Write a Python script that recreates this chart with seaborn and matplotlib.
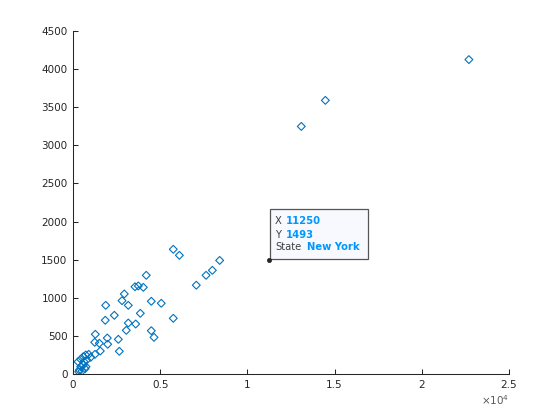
"""
Scatter of state totals with a MATLAB-style data tip on New York.
"""

import matplotlib

matplotlib.use("Agg")
import matplotlib.pyplot as plt
import matplotlib.transforms as mtransforms
from matplotlib.patches import Rectangle
import pandas as pd
import seaborn as sns

# values
x_vals = [
    22700, 14470, 13090, 8410, 7990, 7630, 7070, 6100, 5750, 5750,
    5060, 4490, 4645, 4490, 4200, 4030, 3745, 3555, 3860, 3595,
    3170, 3055, 3170, 2940, 2810, 2600, 2655, 2370, 1875, 1850,
    1965, 1990, 1565, 1510, 1280, 1245, 1260, 900, 1015, 730,
    590, 440, 290, 630, 785, 590, 440, 745, 360, 690,
    515, 330,
]
y_vals = [
    4125, 3590, 3248, 1490, 1360, 1295, 1165, 1557, 1636, 731,
    928, 954, 481, 568, 1295, 1137, 1155, 1145, 796, 656,
    669, 573, 901, 1050, 962, 455, 298, 770, 901, 705,
    472, 390, 302, 403, 521, 416, 258, 258, 219, 249,
    227, 193, 161, 161, 184, 118, 96, 96, 52, 70,
    39, 30,
]

x_ticks = [0, 5000, 10000, 15000, 20000, 25000]
x_tick_labels = ["0", "0.5", "1", "1.5", "2", "2.5"]
y_ticks = [0, 500, 1000, 1500, 2000, 2500, 3000, 3500, 4000, 4500]

tip_x = 11250
tip_y = 1493
tip_state = "New York"

df = pd.DataFrame({"x": x_vals, "y": y_vals})

sns.set_style("white")
plt.rcParams["font.family"] = ["DejaVu Sans"]

fig = plt.figure(figsize=(5.6, 4.2), dpi=100)
ax = fig.add_axes([73 / 560, 46 / 420, 436 / 560, 343 / 420])

sns.scatterplot(
    data=df, x="x", y="y", ax=ax, marker="D", s=16,
    facecolor="none", edgecolor="#0072BD", linewidth=0.8,
)

ax.set_xlim(0, 25000)
ax.set_ylim(0, 4500)
ax.set_xticks(x_ticks)
ax.set_xticklabels(x_tick_labels)
ax.set_yticks(y_ticks)
ax.set_xlabel("")
ax.set_ylabel("")
for side in ["top", "right"]:
    ax.spines[side].set_visible(False)
for side in ["left", "bottom"]:
    ax.spines[side].set_color("#262626")
    ax.spines[side].set_linewidth(0.75)
ax.tick_params(bottom=True, left=True, direction="in", length=3.5, width=0.75,
               color="#262626", labelcolor="#262626", labelsize=7.5, pad=4)

ax.text(1.0, -0.075, r"$\times10^{4}$", transform=ax.transAxes, ha="right",
        va="center", fontsize=7.5, color="#595959")

# data tip, positioned in pixels relative to the tipped point
tip_trans = mtransforms.IdentityTransform() + mtransforms.ScaledTranslation(
    tip_x, tip_y, ax.transData
)
ax.add_patch(Rectangle((1, 1), 98, 50, transform=tip_trans, facecolor="#F8F8FF",
                       edgecolor="#555555", linewidth=0.9, clip_on=False, zorder=4))
rows = [("X", str(tip_x), 17), ("Y", str(tip_y), 17), ("State", tip_state, 37.5)]
for (label, value, vx), dy in zip(rows, [38.9, 25.5, 12.9]):
    ax.text(6, dy, label, transform=tip_trans, fontsize=7.2, color="#404040",
            va="center", zorder=5)
    ax.text(vx, dy, value, transform=tip_trans, fontsize=7.2, color="#0096FF",
            fontweight="bold", va="center", zorder=5)
ax.plot([tip_x], [tip_y], marker="o", ms=3, color="#262626", mec="#262626",
        mew=0.5, zorder=6, clip_on=False)

fig.savefig("out.png", dpi=100)
